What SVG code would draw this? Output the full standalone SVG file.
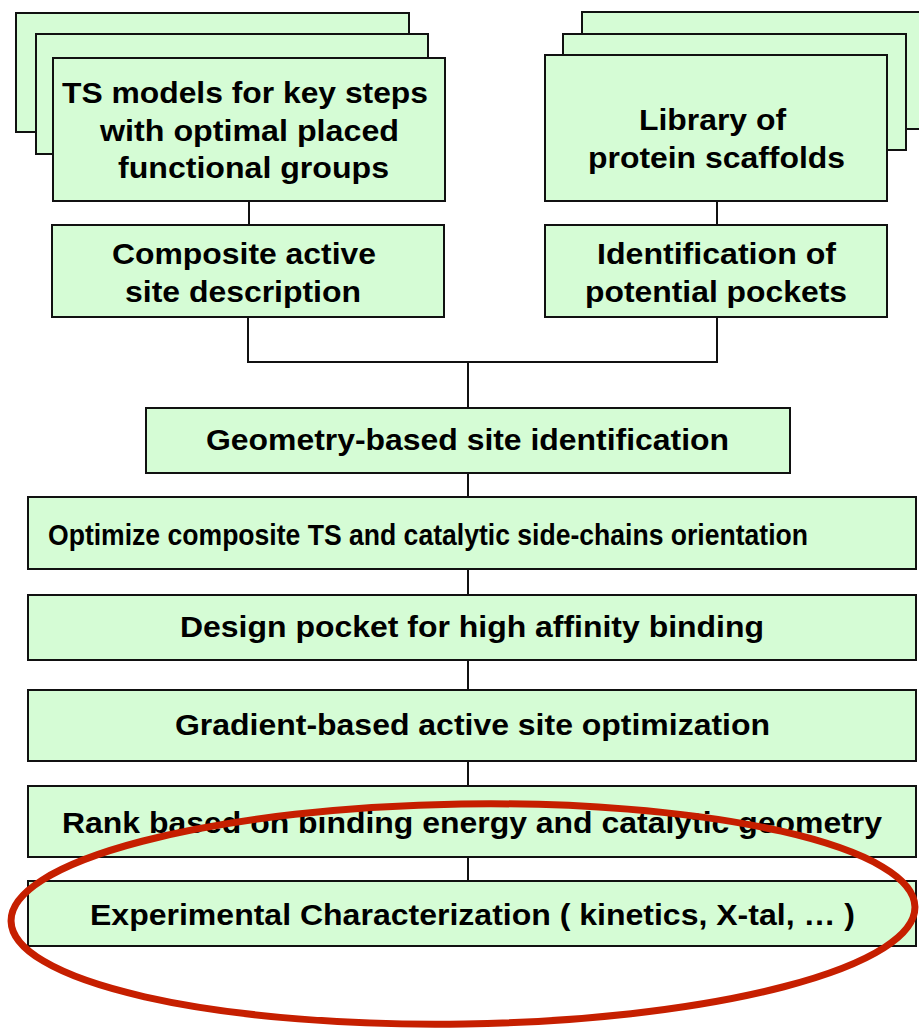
<svg xmlns="http://www.w3.org/2000/svg" width="919" height="1028" viewBox="0 0 919 1028">
  <style>
    .box { fill: #d5fcd5; stroke: #111; stroke-width: 2; }
    .lbl { font-family: "Liberation Sans", Arial, sans-serif; font-weight: bold; fill: #000; }
    .big { font-size: 30px; }
    .mid { font-size: 29px; }
    .wire { fill: none; stroke: #111; stroke-width: 2; }
  </style>
  <rect width="919" height="1028" fill="#fff"/>

  <!-- connectors -->
  <g id="connectors">
    <line class="wire" x1="249" y1="201" x2="249" y2="225"/>
    <line class="wire" x1="717" y1="201" x2="717" y2="225"/>
    <path class="wire" d="M248,317 V362 H717 V317"/>
    <line class="wire" x1="468" y1="362" x2="468" y2="408"/>
    <line class="wire" x1="468" y1="473" x2="468" y2="497"/>
    <line class="wire" x1="468" y1="569" x2="468" y2="595"/>
    <line class="wire" x1="468" y1="660" x2="468" y2="690"/>
    <line class="wire" x1="468" y1="761" x2="468" y2="786"/>
    <line class="wire" x1="468" y1="857" x2="468" y2="881"/>
  </g>

  <!-- stacked transition-state model cards -->
  <g id="ts-models">
    <rect class="box" x="16" y="13" width="393" height="119"/>
    <rect class="box" x="36" y="34" width="392" height="120"/>
    <rect class="box" x="53" y="58" width="392" height="143"/>
    <text class="lbl big" x="62" y="103" textLength="366" lengthAdjust="spacingAndGlyphs">TS models for key steps</text>
    <text class="lbl big" x="100" y="141" textLength="299" lengthAdjust="spacingAndGlyphs">with optimal placed</text>
    <text class="lbl big" x="118" y="178" textLength="271" lengthAdjust="spacingAndGlyphs">functional groups</text>
  </g>

  <!-- stacked scaffold library cards -->
  <g id="scaffold-library">
    <rect class="box" x="582" y="12" width="345" height="117"/>
    <rect class="box" x="563" y="34" width="343" height="116"/>
    <rect class="box" x="545" y="55" width="342" height="146"/>
    <text class="lbl big" x="639" y="130" textLength="147" lengthAdjust="spacingAndGlyphs">Library of</text>
    <text class="lbl big" x="588" y="168" textLength="257" lengthAdjust="spacingAndGlyphs">protein scaffolds</text>
  </g>

  <g id="composite-site">
    <rect class="box" x="52" y="225" width="392" height="92"/>
    <text class="lbl big" x="112" y="264" textLength="264" lengthAdjust="spacingAndGlyphs">Composite active</text>
    <text class="lbl big" x="125" y="302" textLength="236" lengthAdjust="spacingAndGlyphs">site description</text>
  </g>

  <g id="pocket-identification">
    <rect class="box" x="545" y="225" width="342" height="92"/>
    <text class="lbl big" x="597" y="264" textLength="239" lengthAdjust="spacingAndGlyphs">Identification of</text>
    <text class="lbl big" x="585" y="302" textLength="262" lengthAdjust="spacingAndGlyphs">potential pockets</text>
  </g>

  <g id="geometry-site">
    <rect class="box" x="146" y="408" width="644" height="65"/>
    <text class="lbl mid" x="206" y="450" textLength="523" lengthAdjust="spacingAndGlyphs">Geometry-based site identification</text>
  </g>

  <g id="optimize-ts">
    <rect class="box" x="28" y="497" width="888" height="72"/>
    <text class="lbl mid" x="48" y="545" textLength="760" lengthAdjust="spacingAndGlyphs">Optimize composite TS and catalytic side-chains orientation</text>
  </g>

  <g id="design-pocket">
    <rect class="box" x="28" y="595" width="888" height="65"/>
    <text class="lbl mid" x="180" y="637" textLength="584" lengthAdjust="spacingAndGlyphs">Design pocket for high affinity binding</text>
  </g>

  <g id="gradient-opt">
    <rect class="box" x="28" y="690" width="888" height="71"/>
    <text class="lbl mid" x="175" y="735" textLength="595" lengthAdjust="spacingAndGlyphs">Gradient-based active site optimization</text>
  </g>

  <g id="rank">
    <rect class="box" x="28" y="786" width="888" height="71"/>
    <text class="lbl mid" x="62" y="833" textLength="820" lengthAdjust="spacingAndGlyphs">Rank based on binding energy and catalytic geometry</text>
  </g>

  <g id="experimental">
    <rect class="box" x="28" y="881" width="888" height="65"/>
    <text class="lbl mid" x="90" y="925" textLength="765" lengthAdjust="spacingAndGlyphs">Experimental Characterization ( kinetics, X-tal, … )</text>
  </g>

  <!-- highlight ring around the final steps -->
  <g id="highlight">
    <ellipse cx="463" cy="914" rx="452" ry="110" transform="rotate(-0.9 463 914)" fill="none" stroke="#c61f00" stroke-width="7"/>
  </g>
</svg>
